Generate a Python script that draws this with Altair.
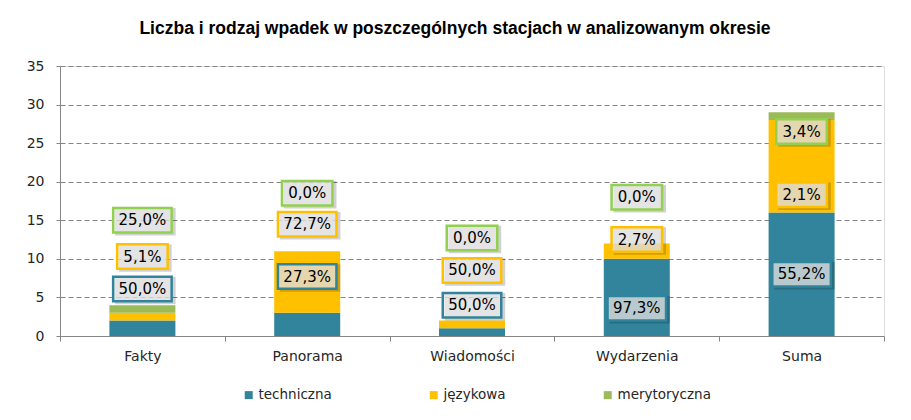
import altair as alt
import pandas as pd

stations = ["Fakty", "Panorama", "Wiadomości", "Wydarzenia", "Suma"]
series = ["techniczna", "językowa", "merytoryczna"]
techniczna = [2, 3, 1, 10, 16]
jezykowa = [1, 8, 1, 2, 12]
merytoryczna = [1, 0, 0, 0, 1]
labels_techniczna = ["50,0%", "27,3%", "50,0%", "97,3%", "55,2%"]
labels_jezykowa = ["5,1%", "72,7%", "50,0%", "2,7%", "2,1%"]
labels_merytoryczna = ["25,0%", "0,0%", "0,0%", "0,0%", "3,4%"]
label_y_techniczna = [6.1, 7.7, 4.0, 3.6, 8.0]
label_y_jezykowa = [10.3, 14.5, 8.5, 12.5, 18.3]
label_y_merytoryczna = [15.0, 18.5, 12.7, 18.0, 26.5]
y_ticks = [0, 5, 10, 15, 20, 25, 30, 35]

bar_colors = ["#31849B", "#FFC000", "#9BBB59"]
border_colors = ["#31849B", "#FFC000", "#92D050"]

values = [techniczna, jezykowa, merytoryczna]
labels = [labels_techniczna, labels_jezykowa, labels_merytoryczna]
label_ys = [label_y_techniczna, label_y_jezykowa, label_y_merytoryczna]

rows = []
for i, st in enumerate(stations):
    for k, name in enumerate(series):
        rows.append(dict(station=st, series=name, order=k, value=values[k][i],
                         label=labels[k][i], ly=label_ys[k][i]))
df = pd.DataFrame(rows)

PLOT_W, PLOT_H = 824, 270
YMAX = 35
half_h = 12.25 * YMAX / PLOT_H  # half box height in data units

yscale = alt.Scale(domain=[0, YMAX], nice=False)
yaxis = alt.Axis(values=y_ticks, domainColor="#868686",
                 tickColor="#868686", tickSize=4, labelPadding=12,
                 labelFont="DejaVu Sans", labelFontSize=14,
                 labelColor="#262626", gridColor="#868686",
                 gridDash=[5, 3], gridWidth=1)

xscale = alt.Scale(paddingInner=0, paddingOuter=0)
xaxis = alt.Axis(tickBand="extent", labelAngle=0, domainColor="#868686",
                 tickColor="#868686", tickSize=5, labelPadding=8,
                 labelFont="DejaVu Sans", labelFontSize=14,
                 labelColor="#262626", grid=False)
x = alt.X("station:N", sort=stations, title=None, scale=xscale, axis=xaxis)

base = alt.Chart(df)

bars = base.mark_bar(size=66).encode(
    x=x,
    y=alt.Y("value:Q", stack="zero", title=None, scale=yscale, axis=yaxis),
    color=alt.Color("series:N", sort=series,
                    scale=alt.Scale(domain=series, range=bar_colors),
                    legend=alt.Legend(title=None, orient="none", direction="horizontal",
                                      legendX=182, legendY=322, symbolType="square",
                                      symbolSize=64, symbolStrokeWidth=0,
                                      labelFont="DejaVu Sans", labelFontSize=13.5,
                                      labelColor="#262626", labelOffset=3,
                                      columnPadding=95)),
    order=alt.Order("order:Q"),
)

box_base = base.transform_calculate(
    y1=f"datum.ly - {half_h}", y2=f"datum.ly + {half_h}",
    n="length(datum.label)")

def boxes(width, cond):
    shadow = box_base.transform_filter(cond).mark_bar(
        size=width + 2, xOffset=3, yOffset=3, color="#000000", opacity=0.18
    ).encode(x=x, y=alt.Y("y1:Q", title=None, scale=yscale, axis=yaxis), y2="y2:Q")
    box = box_base.transform_filter(cond).mark_bar(
        size=width, fill="#EAEAEA", fillOpacity=0.75, strokeWidth=2.5
    ).encode(
        x=x, y=alt.Y("y1:Q", title=None, scale=yscale, axis=yaxis), y2="y2:Q",
        stroke=alt.Stroke("series:N", scale=alt.Scale(domain=series, range=border_colors),
                          legend=None),
    )
    return shadow, box

s5, b5 = boxes(58.5, "datum.n == 5")
s4, b4 = boxes(50.5, "datum.n == 4")

texts = base.mark_text(font="DejaVu Sans", fontSize=15, color="#000000",
                       align="center", baseline="middle").encode(
    x=x, y=alt.Y("ly:Q", title=None, scale=yscale, axis=yaxis), text="label:N")

chart = alt.layer(bars, s5, s4, b5, b4, texts).resolve_scale(
    stroke="independent"
).properties(
    width=PLOT_W, height=PLOT_H,
    autosize=alt.AutoSizeParams(type="none"),
    padding={"left": 52, "top": 58, "right": 10, "bottom": 80},
    title=alt.Title("Liczba i rodzaj  wpadek w poszczególnych stacjach w analizowanym okresie",
                    font="Liberation Sans", fontSize=17.5, fontWeight="bold",
                    color="#000000", anchor="middle", dx=-17, offset=22),
).configure_view(stroke="#868686", strokeWidth=1).configure(background="white")

chart.save("out.html", embed_options={"renderer": "svg", "actions": False})
